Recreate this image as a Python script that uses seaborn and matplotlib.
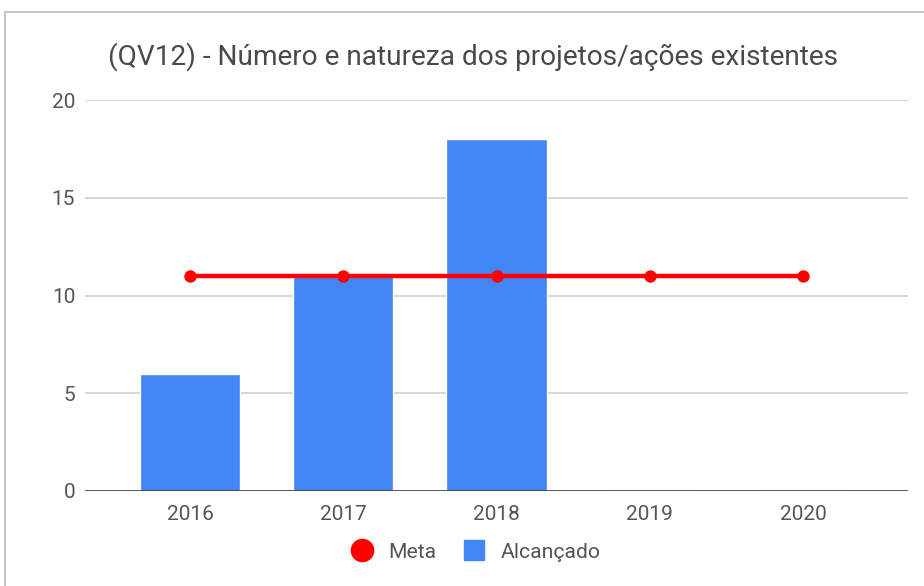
import matplotlib
matplotlib.use("Agg")
import matplotlib.pyplot as plt
from matplotlib.lines import Line2D
from matplotlib.patches import Rectangle
import seaborn as sns
import pandas as pd

anos = ["2016", "2017", "2018", "2019", "2020"]
alcancado = [6, 11, 18, 0, 0]
meta = [11, 11, 11, 11, 11]
titulo = "(QV12) - Número e natureza dos projetos/ações existentes"
yticks = [0, 5, 10, 15, 20]

AZUL = "#4285F4"
VERMELHO = "#FF0000"
TEXTO = "#555555"

sns.set_theme(style="white")
plt.rcParams["font.family"] = ["Roboto", "DejaVu Sans"]

df = pd.DataFrame({"ano": anos, "alcancado": alcancado, "meta": meta})

fig = plt.figure(figsize=(9.24, 5.86), dpi=100)
ax = fig.add_axes([85 / 924, 1 - 491 / 586, (908 - 85) / 924, (491 - 100) / 586])

sns.barplot(data=df, x="ano", y="alcancado", color=AZUL, width=0.654,
            saturation=1, ax=ax, zorder=2)
sns.pointplot(data=df, x="ano", y="meta", color=VERMELHO, markers="o",
              linestyles="-", ax=ax, zorder=4,
              markersize=6.5, linewidth=3.2, errorbar=None)

ax.set_xlim(-0.686, 4.686)
ax.set_ylim(0, 20)
ax.set_yticks(yticks)
ax.set_xlabel("")
ax.set_ylabel("")
for s in ax.spines.values():
    s.set_visible(False)
ax.grid(axis="y", color="#CCCCCC", linewidth=1.1, zorder=0)
ax.grid(axis="x", visible=False)
ax.axhline(0, color="#333333", linewidth=1.8, zorder=3)
ax.tick_params(axis="both", length=0, labelsize=15, labelcolor=TEXTO)
ax.tick_params(axis="y", pad=7)
ax.tick_params(axis="x", pad=10)

fig.text(473 / 924, 1 - 57 / 586, titulo, ha="center", va="center",
         fontsize=20.2, color="#4A4A4A")

handles = [
    Line2D([], [], marker="o", linestyle="none", markersize=16,
           markerfacecolor=VERMELHO, markeredgecolor=VERMELHO),
    Line2D([], [], marker="s", linestyle="none", markersize=14.5,
           markerfacecolor=AZUL, markeredgecolor=AZUL),
]
leg = fig.legend(handles, ["Meta", "Alcançado"], loc="center",
                 bbox_to_anchor=(476 / 924, 1 - 552 / 586), ncol=2,
                 frameon=False, fontsize=15.2, handletextpad=0.75,
                 columnspacing=1.3, handlelength=1.0)
for t in leg.get_texts():
    t.set_color(TEXTO)

fig.patches.append(Rectangle((5 / 924, -0.1), 1.1, 1 - 12 / 586 + 0.1,
                             transform=fig.transFigure, fill=False,
                             edgecolor="#C8C8C8", linewidth=1.5))

fig.savefig("out.png", dpi=100, facecolor="white")
